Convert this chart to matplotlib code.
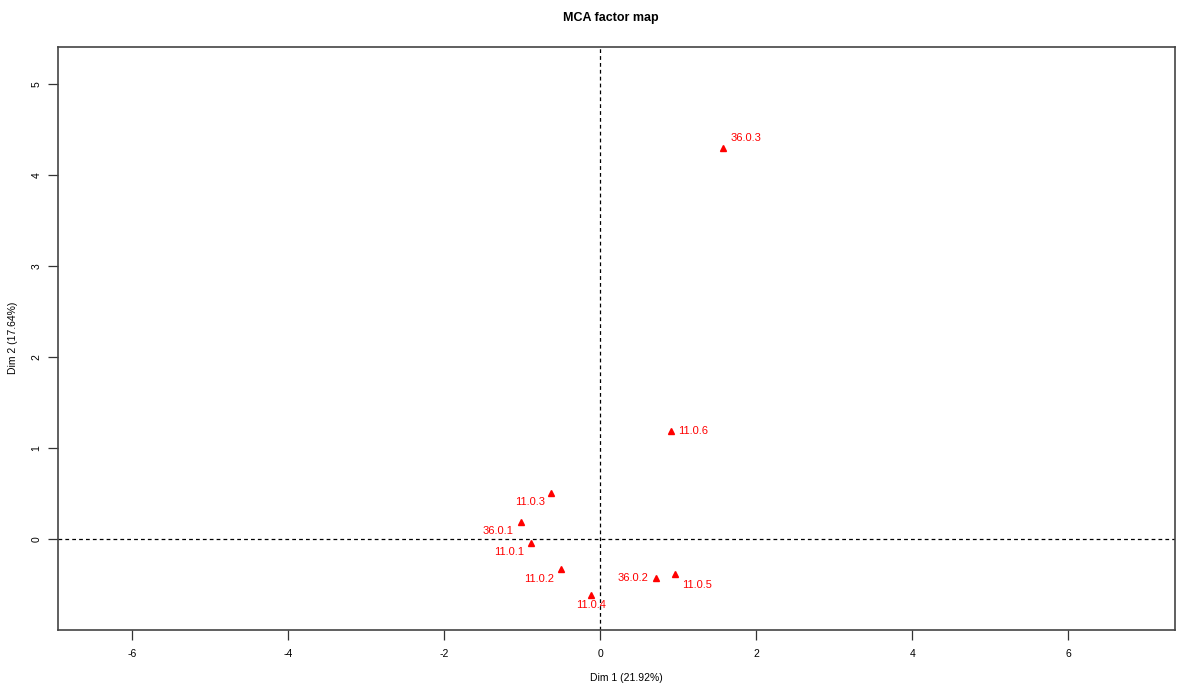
import matplotlib
matplotlib.use("Agg")
import matplotlib.pyplot as plt

plt.rcParams['font.family'] = ['Liberation Sans', 'DejaVu Sans']

# coordenadas de las categorias en el plano factorial
labels = ["36.0.3", "11.0.6", "11.0.3", "36.0.1", "11.0.1", "11.0.2", "11.0.4", "36.0.2", "11.0.5"]
dim1 = [1.58, 0.91, -0.63, -1.02, -0.88, -0.50, -0.12, 0.71, 0.96]
dim2 = [4.30, 1.19, 0.51, 0.19, -0.04, -0.33, -0.62, -0.43, -0.38]

# desplazamiento de las etiquetas (en puntos)
offsets = [(16, 7), (16, 0), (-15, -7), (-16, -7), (-16, -7), (-16, -7), (0, -7), (-16, 0), (16, -8)]

xticks = [-6, -4, -2, 0, 2, 4, 6]
yticks = [0, 1, 2, 3, 4, 5]

fig = plt.figure(figsize=(11.85, 6.86), dpi=100)
ax = fig.add_axes([58/1185, 1-630/686, (1175-58)/1185, (630-47)/686])

ax.axhline(0, color='black', lw=0.9, ls=(0, (3, 2.5)))
ax.axvline(0, color='black', lw=0.9, ls=(0, (3, 2.5)))

ax.plot(dim1, dim2, ls='none', marker='^', color='red', markersize=5)
for lab, x, y, off in zip(labels, dim1, dim2, offsets):
    ax.annotate(lab, (x, y), xytext=off, textcoords='offset points',
                ha='center', va='center', color='red', fontsize=8)

ax.set_xlim(-6.95, 7.37)
ax.set_ylim(-1.0, 5.41)
ax.set_xticks(xticks)
ax.set_yticks(yticks)
ax.set_xticklabels([str(t) for t in xticks], fontsize=7.5)
ax.set_yticklabels([str(t) for t in yticks], fontsize=7.5, rotation=90, va='center')
ax.tick_params(length=7, width=0.9, color='#333333')
ax.tick_params(axis='x', pad=7)
ax.tick_params(axis='y', pad=5)

for s in ax.spines.values():
    s.set_color('#444444')
    s.set_linewidth(1.2)

fig.text(626/1185, 1-678/686, "Dim 1 (21.92%)", ha='center', va='center', fontsize=7.5)
fig.text(13/1185, 1-338/686, "Dim 2 (17.64%)", ha='center', va='center',
         fontsize=7.5, rotation=90)
fig.text(611/1185, 1-18/686, "MCA factor map", ha='center', va='center',
         fontsize=9, fontweight='bold')

fig.savefig("out.png", dpi=100)
